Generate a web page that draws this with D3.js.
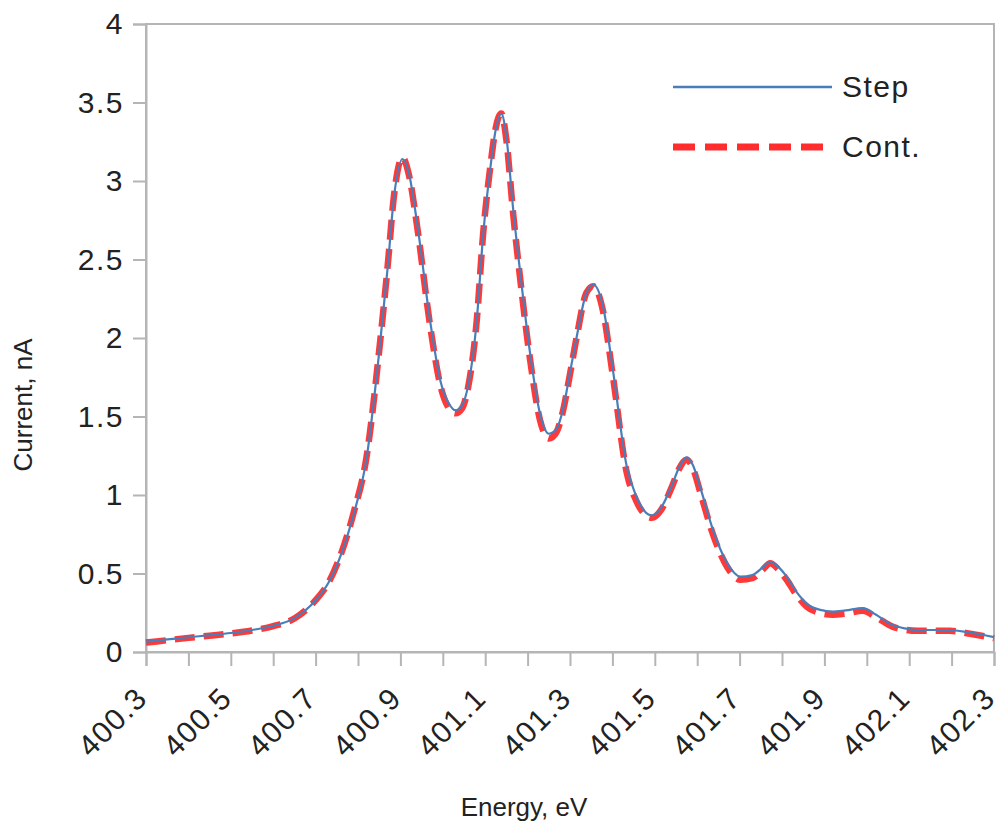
<!DOCTYPE html>
<html>
<head>
<meta charset="utf-8">
<script src="https://cdn.jsdelivr.net/npm/d3@7"></script>
<style>
  body { margin: 0; background: #fff; }
  text { font-family: "Liberation Sans", Arial, sans-serif; fill: #222; }
</style>
</head>
<body>
<div id="chart"></div>
<script>
// energy points (eV)
var energy = [400.30, 400.35, 400.40, 400.45, 400.50, 400.55, 400.60, 400.65, 400.70, 400.73,
  400.76, 400.79, 400.82, 400.85, 400.87, 400.885, 400.905, 400.92, 400.94, 400.97,
  400.995, 401.015, 401.030, 401.045, 401.060, 401.080, 401.095, 401.112, 401.125, 401.138,
  401.150, 401.166, 401.182, 401.206, 401.229, 401.250, 401.268, 401.283, 401.300, 401.316,
  401.339, 401.355, 401.378, 401.401, 401.434, 401.455, 401.475, 401.493, 401.515, 401.540,
  401.560, 401.575, 401.590, 401.607, 401.637, 401.670, 401.702, 401.730, 401.755, 401.772,
  401.790, 401.811, 401.835, 401.858, 401.890, 401.920, 401.950, 401.991, 402.020, 402.062,
  402.090, 402.118, 402.160, 402.196, 402.240, 402.300];

var stepCurrent = [0.066, 0.080, 0.094, 0.107, 0.121, 0.140, 0.167, 0.216, 0.330, 0.440,
  0.620, 0.880, 1.230, 1.910, 2.450, 2.900, 3.140, 3.050, 2.720, 2.110,
  1.720, 1.580, 1.540, 1.570, 1.700, 2.110, 2.650, 3.080, 3.330, 3.430,
  3.280, 2.820, 2.430, 1.900, 1.520, 1.390, 1.420, 1.540, 1.780, 2.010,
  2.290, 2.340, 2.200, 1.800, 1.180, 1.000, 0.900, 0.870, 0.920, 1.060,
  1.190, 1.240, 1.190, 1.050, 0.780, 0.570, 0.480, 0.490, 0.540, 0.575,
  0.545, 0.480, 0.380, 0.310, 0.268, 0.257, 0.265, 0.280, 0.240, 0.170,
  0.150, 0.140, 0.140, 0.140, 0.125, 0.095];

var contCurrent = [0.060, 0.075, 0.090, 0.104, 0.118, 0.137, 0.165, 0.214, 0.330, 0.440,
  0.625, 0.890, 1.240, 1.920, 2.460, 2.910, 3.150, 3.040, 2.700, 2.080,
  1.690, 1.550, 1.520, 1.550, 1.690, 2.110, 2.660, 3.090, 3.340, 3.430,
  3.260, 2.790, 2.390, 1.860, 1.480, 1.360, 1.400, 1.530, 1.770, 2.010,
  2.290, 2.330, 2.170, 1.760, 1.140, 0.970, 0.880, 0.855, 0.905, 1.050,
  1.180, 1.225, 1.170, 1.020, 0.750, 0.545, 0.460, 0.470, 0.525, 0.565,
  0.530, 0.460, 0.360, 0.290, 0.248, 0.238, 0.245, 0.262, 0.225, 0.160,
  0.142, 0.135, 0.136, 0.135, 0.118, 0.088];

var xTicks = [400.3, 400.4, 400.5, 400.6, 400.7, 400.8, 400.9, 401.0, 401.1, 401.2, 401.3,
  401.4, 401.5, 401.6, 401.7, 401.8, 401.9, 402.0, 402.1, 402.2, 402.3];
var xLabels = ["400.3", "400.5", "400.7", "400.9", "401.1", "401.3", "401.5", "401.7", "401.9", "402.1", "402.3"];
var yTicks = [0, 0.5, 1, 1.5, 2, 2.5, 3, 3.5, 4];

var W = 1008, H = 836;
var pLeft = 146, pRight = 994, pTop = 24, pBottom = 652;
var grey = "#b5b5b5";
var tickFont = "30px", tickSpacing = "1.5px";

var svg = d3.select("#chart").append("svg").attr("width", W).attr("height", H);

var x = d3.scaleLinear().domain([400.3, 402.3]).range([pLeft, pRight]);
var y = d3.scaleLinear().domain([0, 4]).range([pBottom, pTop]);

// frame
svg.append("rect")
  .attr("x", pLeft).attr("y", pTop)
  .attr("width", pRight - pLeft).attr("height", pBottom - pTop)
  .attr("fill", "none").attr("stroke", grey).attr("stroke-width", 2);

// y axis
var yAx = svg.append("g").attr("transform", "translate(" + pLeft + ",0)")
  .call(d3.axisLeft(y).tickValues(yTicks).tickSize(13).tickPadding(9).tickFormat(d3.format("~g")));
yAx.select(".domain").attr("stroke", grey).attr("stroke-width", 2);
yAx.selectAll(".tick line").attr("stroke", grey).attr("stroke-width", 2);
yAx.selectAll(".tick text").style("font-size", tickFont).style("letter-spacing", tickSpacing)
  .attr("fill", "#222").style("font-family", "Liberation Sans, Arial, sans-serif");

// x axis
var xAx = svg.append("g").attr("transform", "translate(0," + pBottom + ")")
  .call(d3.axisBottom(x).tickValues(xTicks).tickSize(14).tickFormat(""));
xAx.select(".domain").attr("stroke", grey).attr("stroke-width", 2);
xAx.selectAll(".tick line").attr("stroke", grey).attr("stroke-width", 2);

svg.append("g").selectAll("text").data(xLabels).join("text")
  .attr("transform", function(d) { return "translate(" + (x(+d) + 3) + "," + (pBottom + 48) + ") rotate(-45)"; })
  .attr("text-anchor", "end")
  .style("font-size", tickFont).style("letter-spacing", tickSpacing)
  .text(function(d) { return d; });

// axis titles
svg.append("text")
  .attr("x", 524).attr("y", 816)
  .attr("text-anchor", "middle")
  .style("font-size", "26px")
  .text("Energy, eV");

svg.append("text")
  .attr("transform", "translate(32,405) rotate(-90)")
  .attr("text-anchor", "middle")
  .style("font-size", "26px")
  .text("Current, nA");

// lines
var pts = function(vals) { return energy.map(function(e, i) { return [e, vals[i]]; }); };
var line = d3.line().x(function(d) { return x(d[0]); }).y(function(d) { return y(d[1]); })
  .curve(d3.curveMonotoneX);

var red = "#ff2d2d", blue = "#4a7ebb";

svg.append("path").datum(pts(contCurrent))
  .attr("d", line).attr("fill", "none")
  .attr("stroke", red).attr("stroke-width", 6.5).attr("stroke-dasharray", "20,9").attr("opacity", 0.95);

svg.append("path").datum(pts(stepCurrent))
  .attr("d", line).attr("fill", "none")
  .attr("stroke", blue).attr("stroke-width", 2.2);

// legend
var leg = svg.append("g");
leg.append("line").attr("x1", 673).attr("x2", 832).attr("y1", 87).attr("y2", 87)
  .attr("stroke", blue).attr("stroke-width", 2.5);
leg.append("text").attr("x", 842).attr("y", 97).style("font-size", tickFont).style("letter-spacing", tickSpacing).text("Step");
leg.append("line").attr("x1", 673).attr("x2", 823).attr("y1", 147).attr("y2", 147)
  .attr("stroke", red).attr("stroke-width", 7).attr("stroke-dasharray", "22,10");
leg.append("text").attr("x", 842).attr("y", 157).style("font-size", tickFont).style("letter-spacing", tickSpacing).text("Cont.");
</script>
</body>
</html>
